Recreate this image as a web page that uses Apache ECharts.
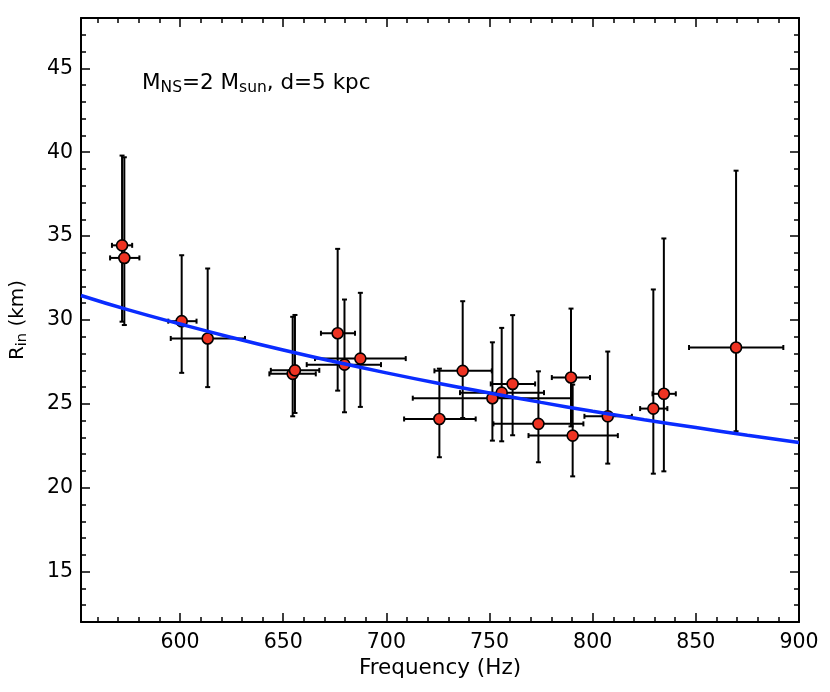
<!DOCTYPE html>
<html><head><meta charset="utf-8">
<script src="https://cdn.jsdelivr.net/npm/echarts@6/dist/echarts.min.js"></script>
<style>html,body{margin:0;padding:0;background:#fff}#c{width:830px;height:692px}</style>
</head><body><div id="c"></div>
<script>
// Data
const freq   = [571.9, 573.0, 600.8, 613.4, 654.6, 655.7, 676.4, 679.7, 687.4, 725.7, 737.0, 751.4, 755.9, 761.2, 773.7, 789.5, 790.3, 807.3, 829.4, 834.5, 869.5];
const freqLo = [567.0, 566.1, 594.3, 595.5, 643.3, 644.0, 668.3, 661.4, 665.4, 708.6, 723.3, 712.8, 735.7, 750.6, 751.9, 780.2, 768.9, 796.0, 823.0, 829.0, 846.7];
const freqHi = [576.8, 580.3, 608.0, 631.5, 665.8, 667.5, 684.8, 697.4, 709.4, 743.3, 751.1, 789.5, 776.4, 772.1, 795.5, 798.7, 812.2, 819.0, 836.2, 840.3, 892.4];
const rin    = [34.45, 33.7, 29.93, 28.9, 26.79, 27.0, 29.21, 27.34, 27.7, 24.1, 26.97, 25.34, 25.67, 26.19, 23.81, 26.57, 23.11, 24.26, 24.72, 25.6, 28.36];
const rinLo  = [29.9, 29.7, 26.85, 26.0, 24.26, 24.46, 25.79, 24.5, 24.82, 21.82, 24.16, 22.81, 22.77, 23.13, 21.52, 23.66, 20.68, 21.44, 20.84, 20.98, 23.37];
const rinHi  = [39.8, 39.7, 33.86, 33.07, 30.19, 30.3, 34.24, 31.22, 31.62, 27.1, 31.12, 28.67, 29.53, 30.29, 26.94, 30.68, 26.15, 28.12, 31.82, 34.86, 38.9];

// Model curve, values
const curveFreq = [552, 575, 600, 625, 650, 675, 700, 725, 750, 775, 800, 825, 850, 875, 900];
const curveRin  = [31.46, 30.6, 29.76, 28.96, 28.21, 27.51, 26.85, 26.23, 25.65, 25.09, 24.56, 24.06, 23.59, 23.13, 22.70];

// Axis ticks
const xMajor = [600, 650, 700, 750, 800, 850, 900];
const xMinor = [560, 570, 580, 590, 610, 620, 630, 640, 660, 670, 680, 690, 710, 720, 730, 740, 760, 770, 780, 790, 810, 820, 830, 840, 860, 870, 880, 890];
const yMajor = [15, 20, 25, 30, 35, 40, 45];
const yMinor = [12, 13, 14, 16, 17, 18, 19, 21, 22, 23, 24, 26, 27, 28, 29, 31, 32, 33, 34, 36, 37, 38, 39, 41, 42, 43, 44, 46, 47, 48];

const FONT = 'DejaVu Sans';
const chart = echarts.init(document.getElementById('c'));

function xAx(pos, vals, len, showLine, showLabel, name) {
  return {
    type: 'value', position: pos, min: 552, max: 900,
    name: name || '', nameLocation: 'middle', nameGap: 31,
    nameTextStyle: {fontFamily: FONT, fontSize: 21.5, color: '#000'},
    axisLine: {show: showLine, onZero: false, lineStyle: {color: '#000', width: 2}},
    axisTick: {show: true, inside: true, length: len, customValues: vals, lineStyle: {color: '#000', width: 1.5}},
    axisLabel: {show: showLabel, customValues: vals, margin: 10, fontFamily: FONT, fontSize: 20.5, color: '#000'},
    splitLine: {show: false}
  };
}
function yAx(pos, vals, len, showLine, showLabel, name) {
  return {
    type: 'value', position: pos, min: 12, max: 48,
    name: name || '', nameLocation: 'middle', nameGap: 51,
    nameTextStyle: {fontFamily: FONT, fontSize: 20, color: '#000',
      rich: {n: {fontFamily: FONT, fontSize: 20, color: '#000'},
             s: {fontFamily: FONT, fontSize: 14.5, color: '#000', padding: [9, 0, 0, 0]}}},
    axisLine: {show: showLine, onZero: false, lineStyle: {color: '#000', width: 2}},
    axisTick: {show: true, inside: true, length: len, customValues: vals, lineStyle: {color: '#000', width: 1.5}},
    axisLabel: {show: showLabel, customValues: vals, margin: 8, fontFamily: FONT, fontSize: 20.5, color: '#000'},
    splitLine: {show: false}
  };
}

const points = freq.map((f, i) => [f, freqLo[i], freqHi[i], rin[i], rinLo[i], rinHi[i]]);
const curve = curveFreq.map((f, i) => [f, curveRin[i]]);

chart.setOption({
  animation: false,
  backgroundColor: '#fff',
  grid: {left: 81, right: 31, top: 18, bottom: 70, containLabel: false},
  xAxis: [
    xAx('bottom', xMajor, 9, true, true, 'Frequency (Hz)'),
    xAx('bottom', xMinor, 5, false, false),
    xAx('top', xMajor, 9, true, false),
    xAx('top', xMinor, 5, false, false)
  ],
  yAxis: [
    yAx('left', yMajor, 9, true, true, '{n|R}{s|in}{n| (km)}'),
    yAx('left', yMinor, 5, false, false),
    yAx('right', yMajor, 9, true, false),
    yAx('right', yMinor, 5, false, false)
  ],
  graphic: [{
    type: 'text', left: 142, top: 72, z: 100,
    style: {
      text: '{n|M}{s|NS}{n|=2 M}{s|sun}{n|, d=5 kpc}',
      rich: {n: {fontFamily: FONT, fontSize: 21.5, fill: '#000'},
             s: {fontFamily: FONT, fontSize: 15.5, fill: '#000', padding: [9, 0, 0, 0]}}
    }
  }],
  series: [
    {
      type: 'custom', xAxisIndex: 0, yAxisIndex: 0, z: 2,
      encode: {x: [0, 1, 2], y: [3, 4, 5]},
      data: points,
      renderItem: function (params, api) {
        const f = api.value(0), fl = api.value(1), fh = api.value(2);
        const r = api.value(3), rl = api.value(4), rh = api.value(5);
        const c = api.coord([f, r]);
        const xl = api.coord([fl, r])[0], xh = api.coord([fh, r])[0];
        const yb = api.coord([f, rl])[1], yt = api.coord([f, rh])[1];
        const cap = 2.5;
        const st = {stroke: '#000', lineWidth: 2};
        const L = (x1, y1, x2, y2) => ({type: 'line', shape: {x1, y1, x2, y2}, style: st});
        return {type: 'group', children: [
          L(xl, c[1], xh, c[1]),
          L(xl, c[1] - cap, xl, c[1] + cap),
          L(xh, c[1] - cap, xh, c[1] + cap),
          L(c[0], yb, c[0], yt),
          L(c[0] - cap, yb, c[0] + cap, yb),
          L(c[0] - cap, yt, c[0] + cap, yt)
        ]};
      }
    },
    {
      type: 'scatter', xAxisIndex: 0, yAxisIndex: 0, z: 3,
      data: points.map(p => [p[0], p[3]]),
      symbol: 'circle', symbolSize: 11,
      itemStyle: {color: '#ee3322', borderColor: '#000', borderWidth: 1.6, opacity: 1}
    },
    {
      type: 'line', xAxisIndex: 0, yAxisIndex: 0, z: 4,
      data: curve, smooth: true, symbol: 'none',
      lineStyle: {color: '#0a2cff', width: 3.5}
    }
  ]
});
</script>
</body></html>
